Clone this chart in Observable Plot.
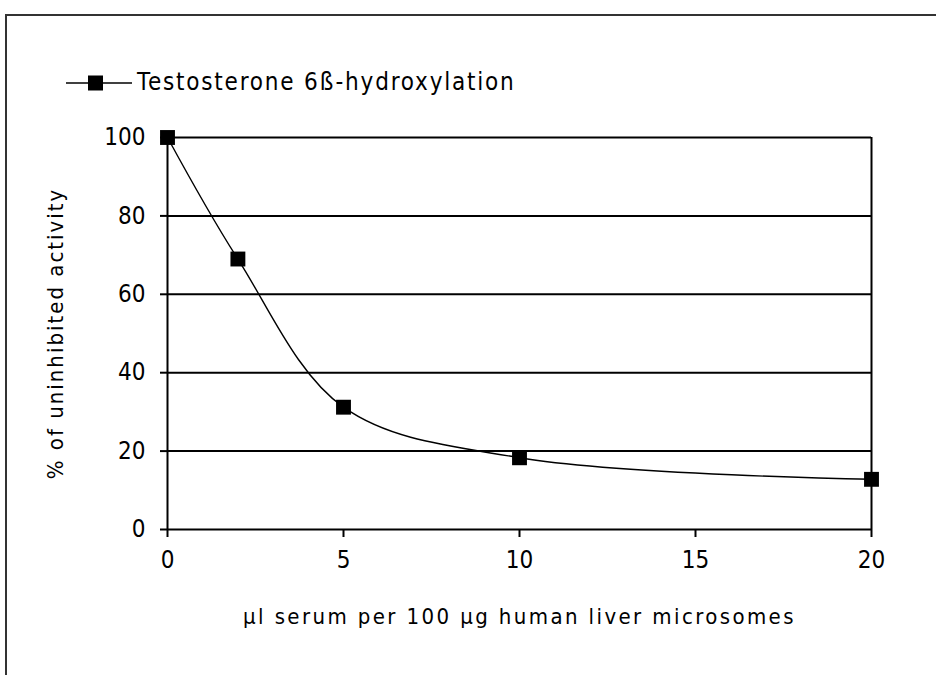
<!DOCTYPE html>
<html>
<head>
<meta charset="utf-8">
<script src="https://cdn.jsdelivr.net/npm/d3@7"></script>
<script src="https://cdn.jsdelivr.net/npm/@observablehq/plot@0.6"></script>
<style>
  html, body { margin: 0; padding: 0; background: #fff; }
  #wrap { position: relative; width: 936px; height: 675px; overflow: hidden; font-family: "DejaVu Sans Condensed", "DejaVu Sans", sans-serif; }
  #box { position: absolute; left: 5px; top: 14px; width: 980px; height: 720px; border: 2px solid #333; box-sizing: border-box; pointer-events: none; }
  #legend { position: relative; height: 110px; }
  #legend svg { position: absolute; left: 66px; top: 75px; }
  #legend span { position: absolute; left: 137px; top: 68px; font-size: 24px; letter-spacing: 1.8px; color: #000; }
  #chart { position: relative; }
</style>
</head>
<body>
<div id="wrap">
  <div id="box"></div>
  <div id="legend"></div>
  <div id="chart"></div>
</div>
<script>
const seriesName = "Testosterone 6ß-hydroxylation";
const serum = [0, 2, 5, 10, 20];
const activity = [100, 69, 31.2, 18.3, 12.8];
const xTicks = [0, 5, 10, 15, 20];
const yTicks = [0, 20, 40, 60, 80, 100];
const xLabel = "µl serum per 100 µg human liver microsomes";
const yLabel = "% of uninhibited activity";

const data = serum.map((x, i) => ({x, y: activity[i]}));

// legend
const legend = document.getElementById("legend");
legend.innerHTML = `<svg width="68" height="16" viewBox="0 0 68 16">
  <line x1="0" x2="66" y1="8" y2="8" stroke="#000" stroke-width="1.5"/>
  <rect x="22" y="0.5" width="15" height="15" fill="#000"/>
</svg><span></span>`;
legend.querySelector("span").textContent = seriesName;

const chart = Plot.plot({
  width: 936,
  height: 565,
  marginLeft: 167,
  marginRight: 65,
  marginTop: 27,
  marginBottom: 146,
  style: {fontFamily: '"DejaVu Sans Condensed", "DejaVu Sans", sans-serif', fontSize: "24px", color: "#000", background: "transparent", overflow: "visible"},
  x: {domain: [0, 20]},
  y: {domain: [0, 100]},
  marks: [
    Plot.ruleY(yTicks, {stroke: "#000", strokeWidth: 2, strokeOpacity: 1}),
    Plot.ruleX([0, 20], {stroke: "#000", strokeWidth: 2, strokeOpacity: 1}),
    Plot.axisX({ticks: xTicks, tickSize: 8, tickPadding: 13, strokeWidth: 2, strokeOpacity: 1,
      label: xLabel, labelAnchor: "center", labelArrow: "none", labelOffset: 94, fontSize: 24}),
    Plot.axisY({ticks: yTicks, tickSize: 7, tickPadding: 15, strokeWidth: 2, strokeOpacity: 1,
      label: yLabel, labelAnchor: "center", labelArrow: "none", labelOffset: 120, fontSize: 24}),
    Plot.line(data, {x: "x", y: "y", curve: "catmull-rom", stroke: "#000", strokeWidth: 1.4}),
    Plot.dot(data, {x: "x", y: "y", symbol: "square", r: 8.4, fill: "#000", stroke: "none"})
  ]
});
document.getElementById("chart").appendChild(chart);
// axis label font sizes
chart.querySelectorAll('g[aria-label="x-axis label"] text').forEach(t => {
  t.setAttribute("font-size", "22");
  t.style.letterSpacing = "2.4px";
});
chart.querySelectorAll('g[aria-label="y-axis label"] text').forEach(t => {
  t.setAttribute("font-size", "22");
  t.style.letterSpacing = "2px";
});
</script>
</body>
</html>
